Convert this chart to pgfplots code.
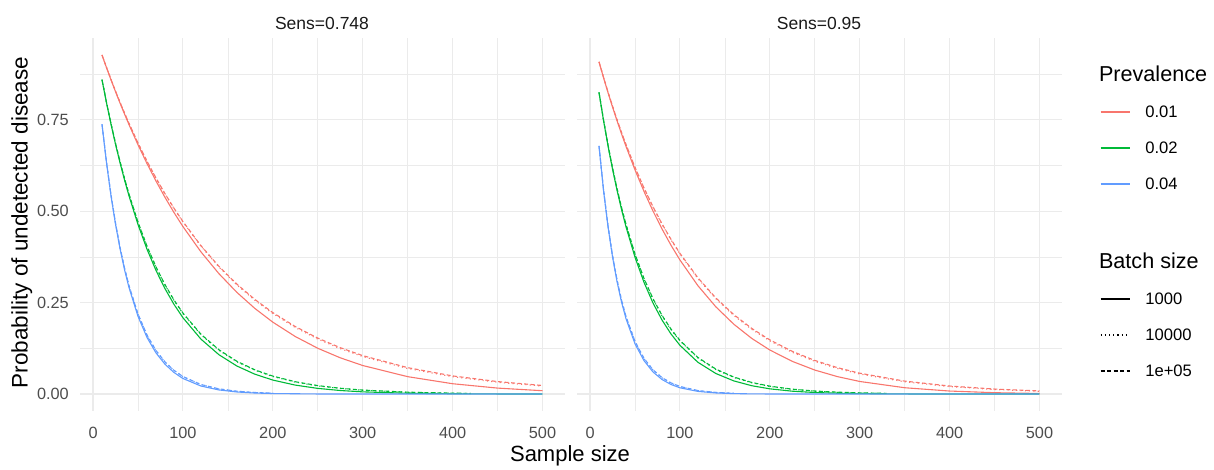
\documentclass[border=0pt]{standalone}
\usepackage{pgfplots}
\pgfplotsset{compat=1.18}
\usepackage{fontspec}
\setmainfont{Liberation Sans}
\definecolor{pRed}{HTML}{F8766D}
\definecolor{pGreen}{HTML}{00BA38}
\definecolor{pBlue}{HTML}{619CFF}
\definecolor{gridGray}{HTML}{EBEBEB}
\definecolor{tickGray}{HTML}{4D4D4D}
\definecolor{stripGray}{HTML}{1A1A1A}

\pgfplotsset{
  facet/.style={
    scale only axis, width=484.5pt, height=373pt,
    xmin=-14.5, xmax=524.5, ymin=-0.0464, ymax=0.9741,
    xtick={0,100,200,300,400,500}, minor xtick={50,150,250,350,450},
    xticklabels={0,100,200,300,400,500},
    ytick={0,0.25,0.5,0.75}, minor ytick={0.125,0.375,0.625,0.875},
    grid=both,
    major grid style={gridGray, line width=1.1pt},
    minor grid style={gridGray, line width=0.6pt},
    axis line style={draw=none},
    major tick length=0pt, minor tick length=0pt,
    tick label style={font=\fontsize{16.3}{18}\selectfont, color=tickGray, inner sep=0pt},
    xticklabel style={anchor=north, yshift=-15.5pt},
    yticklabel style={anchor=east, xshift=-11pt},
  },
  b1/.style={line width=1.1pt, solid},
  b2/.style={line width=1.1pt, dash pattern=on 1.1pt off 3.2pt},
  b3/.style={line width=1.1pt, dash pattern=on 4pt off 2.5pt},
}

\begin{document}
\begin{tikzpicture}[x=1pt,y=1pt]
\path[use as bounding box] (0,0) rectangle (1214,-469);

% Sens = 0.748
\begin{axis}[facet, at={(80pt,-411pt)}, anchor=south west,
  yticklabels={0.00,0.25,0.50,0.75}]
\addplot[pRed, b1] coordinates {(10,0.92741)(15,0.89292)(20,0.85960)(25,0.82739)(30,0.79629)(35,0.76631)(40,0.73720)(50,0.68211)(60,0.63073)(70,0.58288)(80,0.53832)(90,0.49685)(100,0.45829)(120,0.38912)(140,0.32952)(160,0.27826)(180,0.23430)(200,0.19669)(225,0.15737)(250,0.12528)(275,0.09919)(300,0.07811)(350,0.04759)(400,0.02825)(450,0.01630)(500,0.00911)};
\addplot[pRed, b2] coordinates {(10,0.92764)(15,0.89344)(20,0.86048)(25,0.82872)(30,0.79812)(35,0.76864)(40,0.74024)(50,0.68652)(60,0.63667)(70,0.59041)(80,0.54748)(90,0.50763)(100,0.47067)(120,0.40455)(140,0.34763)(160,0.29866)(180,0.25653)(200,0.22029)(225,0.18206)(250,0.15041)(275,0.12420)(300,0.10253)(350,0.06982)(400,0.04746)(450,0.03221)(500,0.02184)};
\addplot[pRed, b3] coordinates {(10,0.92767)(15,0.89349)(20,0.86057)(25,0.82886)(30,0.79832)(35,0.76890)(40,0.74057)(50,0.68700)(60,0.63731)(70,0.59122)(80,0.54846)(90,0.50878)(100,0.47199)(120,0.40618)(140,0.34954)(160,0.30081)(180,0.25886)(200,0.22277)(225,0.18466)(250,0.15306)(275,0.12686)(300,0.10515)(350,0.07225)(400,0.04963)(450,0.03409)(500,0.02342)};
\addplot[pGreen, b1] coordinates {(10,0.85960)(15,0.79663)(20,0.73807)(25,0.68362)(30,0.63299)(35,0.58595)(40,0.54223)(50,0.46394)(60,0.39647)(70,0.33840)(80,0.28848)(90,0.24560)(100,0.20884)(120,0.15040)(140,0.10772)(160,0.07673)(180,0.05433)(200,0.03826)(225,0.02445)(250,0.01548)(275,0.00968)(300,0.00599)(350,0.00222)(400,0.00078)(450,0.00026)(500,0.00008)};
\addplot[pGreen, b2] coordinates {(10,0.86003)(15,0.79754)(20,0.73958)(25,0.68580)(30,0.63591)(35,0.58965)(40,0.54672)(50,0.46999)(60,0.40398)(70,0.34720)(80,0.29837)(90,0.25638)(100,0.22027)(120,0.16255)(140,0.11989)(160,0.08839)(180,0.06514)(200,0.04798)(225,0.03272)(250,0.02230)(275,0.01518)(300,0.01034)(350,0.00477)(400,0.00220)(420,0.00161)};
\addplot[pGreen, b3] coordinates {(10,0.86008)(15,0.79764)(20,0.73974)(25,0.68604)(30,0.63623)(35,0.59005)(40,0.54721)(50,0.47065)(60,0.40479)(70,0.34815)(80,0.29944)(90,0.25754)(100,0.22151)(120,0.16386)(140,0.12121)(160,0.08966)(180,0.06633)(200,0.04907)(225,0.03366)(250,0.02309)(275,0.01584)(300,0.01087)(350,0.00511)(400,0.00241)(420,0.00178)};
\addplot[pBlue, b1] coordinates {(10,0.73720)(15,0.63243)(20,0.54224)(25,0.46464)(30,0.39791)(35,0.34057)(40,0.29132)(50,0.21277)(60,0.15503)(70,0.11268)(80,0.08170)(90,0.05908)(100,0.04262)(120,0.02200)(140,0.01124)(160,0.00567)(180,0.00283)(200,0.00140)(250,0.00022)(300,0.00004)(350,0)(400,0)(450,0)(500,0)};
\addplot[pBlue, b2] coordinates {(10,0.73795)(15,0.63387)(20,0.54445)(25,0.46761)(30,0.40159)(35,0.34488)(40,0.29616)(50,0.21836)(60,0.16095)(70,0.11862)(80,0.08740)(90,0.06438)(100,0.04742)(120,0.02570)(140,0.01392)(160,0.00753)(180,0.00407)(200,0.00220)};
\addplot[pBlue, b3] coordinates {(10,0.73803)(15,0.63403)(20,0.54469)(25,0.46794)(30,0.40200)(35,0.34535)(40,0.29669)(50,0.21897)(60,0.16160)(70,0.11927)(80,0.08803)(90,0.06497)(100,0.04795)(120,0.02612)(140,0.01423)(160,0.00775)(180,0.00422)(200,0.00230)};
\end{axis}

% Sens = 0.95
\begin{axis}[facet, at={(577pt,-411pt)}, anchor=south west,
  yticklabels={,,,},
  legend cell align=left,
  legend image code/.code={\draw[#1, line width=1.3pt] (0pt,0pt) -- (29pt,0pt);},
  legend style={at={(rel axis cs:1.0795,0.9464)}, anchor=north west,
    draw=none, fill=none, inner sep=0pt, outer sep=0pt,
    column sep=15pt, row sep=0pt,
    nodes={inner sep=0pt, minimum height=36pt, text depth=0pt},
    font=\fontsize{16.6}{18}\selectfont},
]
\addlegendimage{empty legend}
\addlegendentry{\hspace*{-46.3pt}\raisebox{4pt}{\fontsize{21.6}{24}\selectfont Prevalence}}
\addlegendimage{pRed, solid}\addlegendentry{0.01}
\addlegendimage{pGreen, solid}\addlegendentry{0.02}
\addlegendimage{pBlue, solid}\addlegendentry{0.04}
\addlegendimage{empty legend}\addlegendentry{\rule{0pt}{43pt}}
\addlegendimage{empty legend}
\addlegendentry{\hspace*{-46.3pt}\raisebox{4pt}{\fontsize{21.6}{24}\selectfont Batch size}}
\addlegendimage{black, solid}\addlegendentry{1000}
\addlegendimage{black, dash pattern=on 1.2pt off 3pt}\addlegendentry{10000}
\addlegendimage{black, dash pattern=on 4pt off 2.5pt}\addlegendentry{1e+05}

\addplot[pRed, b1, forget plot] coordinates {(10,0.90855)(15,0.86571)(20,0.82470)(25,0.78545)(30,0.74789)(35,0.71196)(40,0.67758)(50,0.61329)(60,0.55455)(70,0.50092)(80,0.45201)(90,0.40744)(100,0.36687)(120,0.29646)(140,0.23847)(160,0.19090)(180,0.15205)(200,0.12048)(225,0.08936)(250,0.06569)(275,0.04781)(300,0.03445)(350,0.01728)(400,0.00824)(450,0.00371)(500,0.00155)};
\addplot[pRed, b2, forget plot] coordinates {(10,0.90892)(15,0.86651)(20,0.82606)(25,0.78748)(30,0.75068)(35,0.71560)(40,0.68213)(50,0.61977)(60,0.56308)(70,0.51151)(80,0.46463)(90,0.42200)(100,0.38326)(120,0.31602)(140,0.26048)(160,0.21464)(180,0.17679)(200,0.14557)(225,0.11411)(250,0.08941)(275,0.07001)(300,0.05479)(350,0.03351)(400,0.02044)(450,0.01244)(500,0.00756)};
\addplot[pRed, b3, forget plot] coordinates {(10,0.90896)(15,0.86660)(20,0.82621)(25,0.78770)(30,0.75099)(35,0.71599)(40,0.68262)(50,0.62047)(60,0.56399)(70,0.51264)(80,0.46597)(90,0.42355)(100,0.38499)(120,0.31808)(140,0.26280)(160,0.21713)(180,0.17939)(200,0.14822)(225,0.11675)(250,0.09197)(275,0.07244)(300,0.05706)(350,0.03541)(400,0.02197)(450,0.01363)(500,0.00846)};
\addplot[pGreen, b1, forget plot] coordinates {(10,0.82470)(15,0.74842)(20,0.67888)(25,0.61551)(30,0.55779)(35,0.50525)(40,0.45743)(50,0.37439)(60,0.30583)(70,0.24930)(80,0.20281)(90,0.16464)(100,0.13336)(120,0.08692)(140,0.05614)(160,0.03591)(180,0.02274)(200,0.01425)(225,0.00782)(250,0.00422)(275,0.00223)(300,0.00115)(350,0.00029)(400,0.00007)(450,0.00002)(500,0)};
\addplot[pGreen, b2, forget plot] coordinates {(10,0.82538)(15,0.74980)(20,0.68112)(25,0.61870)(30,0.56197)(35,0.51043)(40,0.46359)(50,0.38236)(60,0.31531)(70,0.25996)(80,0.21430)(90,0.17662)(100,0.14554)(120,0.09877)(140,0.06698)(160,0.04540)(180,0.03074)(200,0.02081)(225,0.01275)(250,0.00782)(275,0.00478)(300,0.00292)(330,0.00161)};
\addplot[pGreen, b3, forget plot] coordinates {(10,0.82545)(15,0.74995)(20,0.68137)(25,0.61905)(30,0.56243)(35,0.51099)(40,0.46426)(50,0.38322)(60,0.31633)(70,0.26111)(80,0.21554)(90,0.17792)(100,0.14686)(120,0.10006)(140,0.06818)(160,0.04646)(180,0.03165)(200,0.02157)(225,0.01335)(250,0.00827)(275,0.00512)(300,0.00317)(330,0.00178)};
\addplot[pBlue, b1, forget plot] coordinates {(10,0.67758)(15,0.55699)(20,0.45743)(25,0.37532)(30,0.30766)(35,0.25194)(40,0.20613)(50,0.13757)(60,0.09144)(70,0.06054)(80,0.03991)(90,0.02620)(100,0.01713)(120,0.00722)(140,0.00299)(160,0.00121)(180,0.00048)(200,0.00019)(250,0.00002)(300,0)(400,0)(500,0)};
\addplot[pBlue, b2, forget plot] coordinates {(10,0.67869)(15,0.55905)(20,0.46046)(25,0.37922)(30,0.31228)(35,0.25713)(40,0.21172)(50,0.14348)(60,0.09721)(70,0.06582)(80,0.04456)(90,0.03016)(100,0.02040)(120,0.00932)(140,0.00426)(160,0.00195)};
\addplot[pBlue, b3, forget plot] coordinates {(10,0.67881)(15,0.55928)(20,0.46079)(25,0.37965)(30,0.31279)(35,0.25770)(40,0.21233)(50,0.14413)(60,0.09784)(70,0.06641)(80,0.04508)(90,0.03060)(100,0.02077)(120,0.00957)(140,0.00441)(160,0.00204)};
\end{axis}

\node[color=stripGray, font=\fontsize{17.5}{20}\selectfont] at (322,-23.3) {Sens=0.748};
\node[color=stripGray, font=\fontsize{17.5}{20}\selectfont] at (819,-23.3) {Sens=0.95};
\node[rotate=90, anchor=base, font=\fontsize{22.5}{26}\selectfont] at (27.5,-222.5) {Probability of undetected disease};
\node[anchor=base, font=\fontsize{22}{26}\selectfont] at (570,-461.5) {Sample size};
\end{tikzpicture}
\end{document}
